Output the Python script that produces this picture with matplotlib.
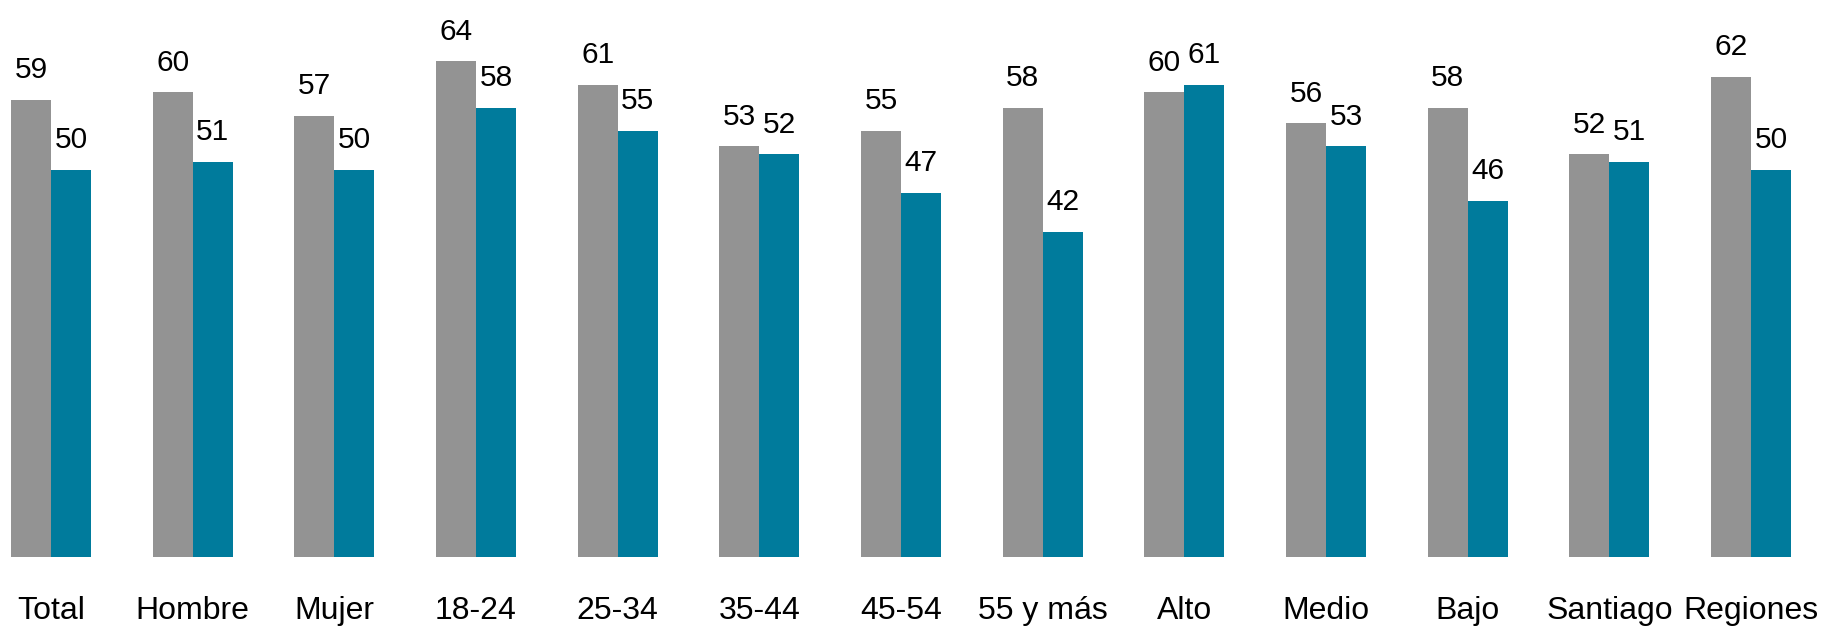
import numpy as np
import matplotlib.pyplot as plt

plt.rcParams['font.family'] = ['Liberation Sans', 'DejaVu Sans']

categories = ["Total", "Hombre", "Mujer", "18-24", "25-34", "35-44", "45-54",
              "55 y más", "Alto", "Medio", "Bajo", "Santiago", "Regiones"]
serie_gris = [59, 60, 57, 64, 61, 53, 55, 58, 60, 56, 58, 52, 62]
serie_azul = [50, 51, 50, 58, 55, 52, 47, 42, 61, 53, 46, 51, 50]

GRIS = "#939393"
AZUL = "#007b9c"

W, H = 1844, 626
fig = plt.figure(figsize=(W / 100, H / 100), dpi=100)

base_px = 556.7    # y of bar baseline (px from top)
px_unit = 7.74     # px per value unit
step = 141.67      # px between groups
c0 = 51            # px of first group center
ax = fig.add_axes([0, (H - base_px) / H, 1, base_px / H])
ax.set_ylim(0, base_px / px_unit)
ax.set_xlim(-c0 / step, (W - c0) / step)
ax.axis("off")

x = np.arange(len(categories))
bw = 40 / step
b1 = ax.bar(x - bw / 2, serie_gris, bw, color=GRIS)
b2 = ax.bar(x + bw / 2, serie_azul, bw, color=AZUL)

for bars in (b1, b2):
    for r in bars:
        ax.annotate(f"{r.get_height():.0f}",
                    xy=(r.get_x() + r.get_width() / 2, r.get_height()),
                    xytext=(0, 15.6), textcoords="offset points",
                    ha="center", va="baseline", fontsize=21.5)

for i, c in enumerate(categories):
    ax.annotate(c, xy=(i, 0), xycoords=("data", "axes fraction"),
                xytext=(0, -44.7), textcoords="offset points",
                ha="center", va="baseline", fontsize=23,
                annotation_clip=False)

fig.savefig("out.png", dpi=100)
